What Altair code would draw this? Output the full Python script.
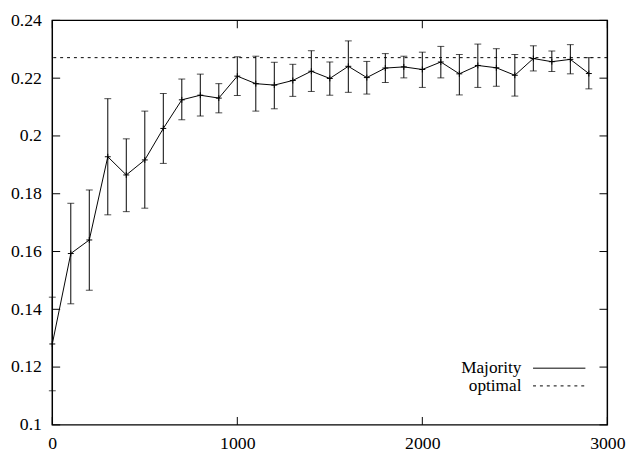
import altair as alt
import pandas as pd

# ---- data ----
steps = [0, 100, 200, 300, 400, 500, 600, 700, 800, 900,
         1000, 1100, 1200, 1300, 1400, 1500, 1600, 1700, 1800, 1900,
         2000, 2100, 2200, 2300, 2400, 2500, 2600, 2700, 2800, 2900]
majority = [0.1280, 0.1593, 0.1640, 0.1928, 0.1865, 0.1917, 0.2026, 0.2125, 0.2141, 0.2131,
            0.2207, 0.2181, 0.2176, 0.2192, 0.2224, 0.2199, 0.2241, 0.2202, 0.2235, 0.2239,
            0.2230, 0.2256, 0.2215, 0.2244, 0.2236, 0.2210, 0.2268, 0.2257, 0.2265, 0.2216]
err_low = [0.1118, 0.1419, 0.1466, 0.1727, 0.1738, 0.1750, 0.1905, 0.2056, 0.2069, 0.2080,
           0.2140, 0.2086, 0.2094, 0.2137, 0.2154, 0.2141, 0.2151, 0.2145, 0.2185, 0.2201,
           0.2168, 0.2201, 0.2142, 0.2168, 0.2172, 0.2138, 0.2225, 0.2223, 0.2215, 0.2163]
err_high = [0.1442, 0.1767, 0.1813, 0.2129, 0.1990, 0.2086, 0.2147, 0.2197, 0.2214, 0.2181,
            0.2274, 0.2276, 0.2255, 0.2248, 0.2295, 0.2256, 0.2329, 0.2258, 0.2285, 0.2276,
            0.2290, 0.2310, 0.2282, 0.2318, 0.2302, 0.2282, 0.2312, 0.2294, 0.2316, 0.2271]
optimal = [0.2271]
x_ticks = [0, 1000, 2000, 3000]
y_ticks = [0.10, 0.12, 0.14, 0.16, 0.18, 0.20, 0.22, 0.24]
legend_labels = ["Majority", "optimal"]

FONT = "Liberation Serif"
W, H = 564, 411

df = pd.DataFrame({"step": steps, "value": majority, "lo": err_low, "hi": err_high})
xs = alt.Scale(domain=[0, 3000], nice=False, zero=False)
ys = alt.Scale(domain=[0.10, 0.24], nice=False, zero=False)

common = dict(labelFont=FONT, labelFontSize=18, labelColor="black", domain=False,
              ticks=False, tickSize=0, grid=False, labelFlush=False,
              labelOverlap=False, title=None)
x_axis = alt.Axis(values=x_ticks, format="d", labelPadding=10, **common)
y_axis = alt.Axis(values=y_ticks, format="~g", labelPadding=11, **common)

X = alt.X("step:Q", scale=xs, axis=x_axis)

base = alt.Chart(df)
line = base.mark_line(color="black", strokeWidth=1).encode(
    x=X, y=alt.Y("value:Q", scale=ys, axis=y_axis))
bars = base.mark_rule(color="black", strokeWidth=1).encode(
    x=X, y=alt.Y("lo:Q", scale=ys, axis=y_axis), y2="hi:Q")
cap_lo = base.mark_tick(color="black", orient="horizontal", size=7, thickness=1).encode(
    x=X, y=alt.Y("lo:Q", scale=ys, axis=y_axis))
cap_hi = base.mark_tick(color="black", orient="horizontal", size=7, thickness=1).encode(
    x=X, y=alt.Y("hi:Q", scale=ys, axis=y_axis))
pts = base.mark_point(shape="M-1,0H1M0,-1V1", size=36, filled=False, color="black",
                      strokeWidth=1, opacity=1).encode(
    x=X, y=alt.Y("value:Q", scale=ys, axis=y_axis))

opt = alt.Chart(pd.DataFrame({"v": optimal})).mark_rule(
    color="black", strokeWidth=1, strokeDash=[3, 4]).encode(
    y=alt.Y("v:Q", scale=ys, axis=y_axis))

# inward ticks on all four sides
ydf = pd.DataFrame({"t": y_ticks})
xdf = pd.DataFrame({"t": x_ticks})
tk = dict(color="black", strokeWidth=1)
yt_left = alt.Chart(ydf).mark_rule(**tk).encode(
    y=alt.Y("t:Q", scale=ys, axis=y_axis), x=alt.value(0), x2=alt.value(8))
yt_right = alt.Chart(ydf).mark_rule(**tk).encode(
    y=alt.Y("t:Q", scale=ys, axis=y_axis), x=alt.value(W - 8), x2=alt.value(W))
xt_bot = alt.Chart(xdf).mark_rule(**tk).encode(
    x=alt.X("t:Q", scale=xs, axis=x_axis), y=alt.value(H - 8), y2=alt.value(H))
xt_top = alt.Chart(xdf).mark_rule(**tk).encode(
    x=alt.X("t:Q", scale=xs, axis=x_axis), y=alt.value(0), y2=alt.value(8))

# legend (drawn by hand, text to the left of the sample line)
leg_layers = []
for i, lab in enumerate(legend_labels):
    yy = 353.4 + i * 18
    ldf = pd.DataFrame({"label": [lab]})
    leg_layers.append(alt.Chart(ldf).mark_text(
        align="right", baseline="middle", font=FONT, fontSize=17.5, color="black").encode(
        text="label:N", x=alt.value(476.7), y=alt.value(yy)))
    style = dict(color="black", strokeWidth=1)
    if i == 1:
        style["strokeDash"] = [3, 4]
    leg_layers.append(alt.Chart(ldf).mark_rule(**style).encode(
        x=alt.value(488.5), x2=alt.value(541.7), y=alt.value(yy)))

chart = alt.layer(opt, bars, cap_lo, cap_hi, line, pts,
                  yt_left, yt_right, xt_bot, xt_top, *leg_layers).properties(
    width=W, height=H,
    autosize=alt.AutoSizeParams(type="none"),
    padding={"left": 45, "top": 9, "right": 22, "bottom": 25},
    background="white",
).configure_view(stroke="black", strokeWidth=1.5).configure_axis(**common)

chart.save("out.html", embed_options={"renderer": "svg", "actions": False})
